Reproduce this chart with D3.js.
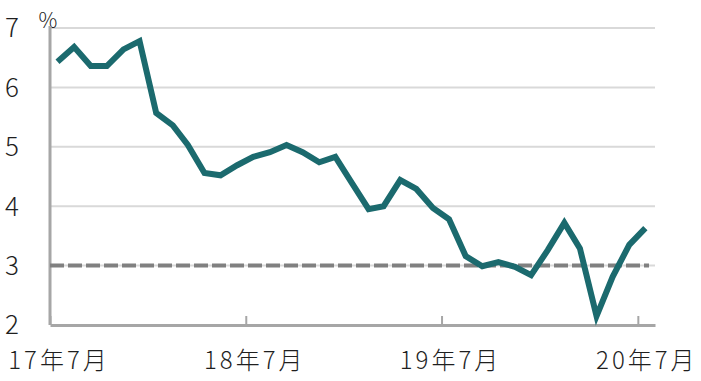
<!DOCTYPE html>
<html>
<head>
<meta charset="utf-8">
<script src="https://cdn.jsdelivr.net/npm/d3@7"></script>
<style>
    body { margin: 0; background: #fff; }
    text { font-family: "Noto Sans CJK JP", "Noto Sans", sans-serif; font-weight: 300; fill: #1f1f1f; }
</style>
</head>
<body>
<div id="chart"></div>
<script>
// monthly values, 2017-07 .. 2020-07 (%)
const values = [
    6.43, 6.68, 6.36, 6.36, 6.64, 6.78, 5.57, 5.36, 5.03, 4.56, 4.52, 4.69,
    4.83, 4.91, 5.03, 4.91, 4.74, 4.83, 4.39, 3.95, 4.00, 4.44, 4.29, 3.97,
    3.78, 3.16, 2.99, 3.06, 2.98, 2.84, 3.26, 3.72, 3.29, 2.15, 2.81, 3.35,
    3.63
];
const startYear = 2017, startMonth = 6; // July
const yTicks = [2, 3, 4, 5, 6, 7];
const xTickDates = [new Date(2017, 6, 1), new Date(2018, 6, 1), new Date(2019, 6, 1), new Date(2020, 6, 1)];
const xTickLabels = ["17年7月", "18年7月", "19年7月", "20年7月"];
const refLevel = 3;

const W = 701, H = 381;
const margin = { top: 28, right: 46, bottom: 56, left: 50 };
const width = W - margin.left - margin.right;
const height = H - margin.top - margin.bottom;

const data = values.map((v, i) => ({ date: new Date(startYear, startMonth + i, 15), value: v }));

const svg = d3.select("#chart")
    .append("svg")
    .attr("width", W)
    .attr("height", H)
    .append("g")
    .attr("transform", `translate(${margin.left},${margin.top})`);

const x = d3.scaleTime()
    .domain([new Date(2017, 6, 1), new Date(2020, 7, 2)])
    .range([0, width]);

const y = d3.scaleLinear()
    .domain([2, 7])
    .range([height, 0]);

// gridlines
svg.selectAll(".grid")
    .data(yTicks.filter(d => d > 2))
    .enter()
    .append("line")
    .attr("x1", 0)
    .attr("x2", width)
    .attr("y1", d => y(d))
    .attr("y2", d => y(d))
    .attr("stroke", "#d9d9d9")
    .attr("stroke-width", 2);

// y labels
svg.selectAll(".ylab")
    .data(yTicks)
    .enter()
    .append("text")
    .attr("x", -31)
    .attr("y", d => y(d))
    .attr("dy", "0.36em")
    .attr("text-anchor", "end")
    .style("font-size", "26px")
    .text(d => d);

svg.append("text")
    .attr("x", -2)
    .attr("y", 0)
    .attr("text-anchor", "middle")
    .style("font-size", "21px")
    .text("%");

// axes lines
svg.append("line")
    .attr("x1", 0).attr("x2", 0)
    .attr("y1", y(7) - 2).attr("y2", height)
    .attr("stroke", "#a6a6a6")
    .attr("stroke-width", 3);

const xAxis = svg.append("g")
    .attr("transform", `translate(0,${height})`)
    .call(d3.axisBottom(x).tickValues(xTickDates).tickSize(-9).tickSizeOuter(0).tickFormat(""));
xAxis.select(".domain").attr("stroke", "#a6a6a6").attr("stroke-width", 3);
xAxis.selectAll(".tick line").attr("stroke", "#a6a6a6").attr("stroke-width", 2);

// x labels under the July points
svg.selectAll(".xlab")
    .data(xTickLabels)
    .enter()
    .append("text")
    .attr("x", (d, i) => x(data[i * 12].date) + 1.5)
    .attr("y", height + 44)
    .attr("text-anchor", "middle")
    .style("font-size", "24px")
    .style("letter-spacing", "3px")
    .text(d => d);

// reference dashed line
svg.append("line")
    .attr("x1", 0)
    .attr("x2", width - 6)
    .attr("y1", y(refLevel))
    .attr("y2", y(refLevel))
    .attr("stroke", "#808080")
    .attr("stroke-width", 4)
    .attr("stroke-dasharray", "14,4");

const line = d3.line()
    .x(d => x(d.date))
    .y(d => y(d.value));

svg.append("path")
    .datum(data)
    .attr("fill", "none")
    .attr("stroke", "#1b6a6e")
    .attr("stroke-width", 6)
    .attr("d", line);
</script>
</body>
</html>
